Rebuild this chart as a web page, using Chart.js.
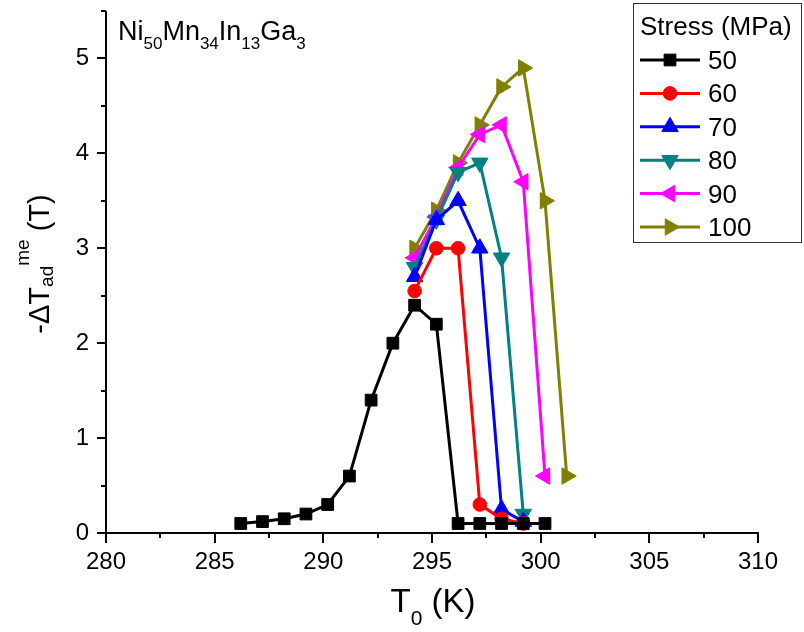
<!DOCTYPE html>
<html><head><meta charset="utf-8">
<script src="https://cdn.jsdelivr.net/npm/chart.js@4/dist/chart.umd.min.js"></script>
<style>html,body{margin:0;padding:0;background:#fff;} #wrap{width:804px;height:632px;}</style>
</head><body><div id="wrap"><canvas id="c" width="804" height="632"></canvas></div>
<script>
// ---- data ----
const stressLabels = ['50', '60', '70', '80', '90', '100'];
const t50  = [286.2, 287.2, 288.2, 289.2, 290.2, 291.2, 292.2, 293.2, 294.2, 295.2, 296.2, 297.2, 298.2, 299.2, 300.2];
const d50  = [0.1, 0.12, 0.15, 0.2, 0.3, 0.6, 1.4, 2.0, 2.4, 2.2, 0.1, 0.1, 0.1, 0.1, 0.1];
const t60  = [294.2, 295.2, 296.2, 297.2, 298.2, 299.2];
const d60  = [2.55, 3.0, 3.0, 0.3, 0.15, 0.1];
const t70  = [294.2, 295.2, 296.2, 297.2, 298.2, 299.2];
const d70  = [2.7, 3.3, 3.5, 3.0, 0.25, 0.12];
const t80  = [294.2, 295.2, 296.2, 297.2, 298.2, 299.2];
const d80  = [2.8, 3.3, 3.8, 3.9, 2.9, 0.2];
const t90  = [294.2, 295.2, 296.2, 297.2, 298.2, 299.2, 300.2];
const d90  = [2.9, 3.33, 3.85, 4.2, 4.3, 3.7, 0.6];
const t100 = [294.2, 295.2, 296.2, 297.2, 298.2, 299.2, 300.2, 301.2];
const d100 = [3.0, 3.4, 3.9, 4.3, 4.7, 4.9, 3.5, 0.6];
const xTicks = [280, 285, 290, 295, 300, 305, 310];
const yTicks = [0, 1, 2, 3, 4, 5];

const FONT = "'Liberation Sans', Arial, Helvetica, sans-serif";
const fnt = s => s + 'px ' + FONT;
Chart.defaults.font.family = FONT;
Chart.defaults.color = '#000';

const styles = [
  {color: '#000000', pointStyle: 'rect', rotation: 0, radius: 8.3},
  {color: '#FF0000', pointStyle: 'circle', rotation: 0, radius: 6.8},
  {color: '#0000FF', pointStyle: 'triangle', rotation: 0, radius: 9.5},
  {color: '#008080', pointStyle: 'triangle', rotation: 180, radius: 9.5},
  {color: '#FF00FF', pointStyle: 'triangle', rotation: -90, radius: 9.5},
  {color: '#808000', pointStyle: 'triangle', rotation: 90, radius: 9.5}
];
const seriesX = [t50, t60, t70, t80, t90, t100];
const seriesY = [d50, d60, d70, d80, d90, d100];

const datasets = stressLabels.map((lab, i) => ({
  label: lab,
  data: seriesX[i].map((x, j) => ({x: x, y: seriesY[i][j]})),
  borderColor: styles[i].color,
  backgroundColor: styles[i].color,
  pointBackgroundColor: styles[i].color,
  pointBorderColor: styles[i].color,
  pointBorderWidth: 1,
  pointStyle: styles[i].pointStyle,
  rotation: styles[i].rotation,
  pointRadius: styles[i].radius,
  pointHoverRadius: styles[i].radius,
  borderWidth: 3,
  showLine: true,
  tension: 0,
  clip: false
}));

function drawRuns(ctx, runs, x, y) {
  let cx = x;
  for (const [t, sz, dy] of runs) {
    ctx.font = fnt(sz);
    ctx.fillText(t, cx, y + dy);
    cx += ctx.measureText(t).width;
  }
  return cx - x;
}
function runsWidth(ctx, runs) {
  let w = 0;
  for (const [t, sz] of runs) { ctx.font = fnt(sz); w += ctx.measureText(t).width; }
  return w;
}
function marker(ctx, st, x, y) {
  ctx.fillStyle = st.color; ctx.strokeStyle = st.color; ctx.lineWidth = 1;
  if (Chart.helpers && Chart.helpers.drawPoint) {
    Chart.helpers.drawPoint(ctx, {pointStyle: st.pointStyle, rotation: st.rotation, radius: st.radius, borderWidth: 1}, x, y);
  }
}

const decor = {
  id: 'decor',
  afterDraw(chart) {
    const ctx = chart.ctx;
    const xs = chart.scales.x, ys = chart.scales.y;
    const ca = chart.chartArea;
    ctx.save();
    ctx.strokeStyle = '#000'; ctx.lineWidth = 2; ctx.lineCap = 'butt';
    // axis lines
    ctx.beginPath();
    ctx.moveTo(ca.left, ca.top); ctx.lineTo(ca.left, ca.bottom);
    ctx.moveTo(ca.left - 1, ca.bottom); ctx.lineTo(ca.right + 1, ca.bottom);
    ctx.stroke();
    // x ticks (major 5, minor 2.5)
    ctx.beginPath();
    for (let v = 280; v <= 310.001; v += 2.5) {
      const px = Math.round(xs.getPixelForValue(v));
      const len = (Math.abs(v % 5) < 1e-6) ? 10 : 5;
      ctx.moveTo(px, ca.bottom); ctx.lineTo(px, ca.bottom + len);
    }
    // y ticks (major 1, minor 0.5)
    for (let v = 0; v <= 5.5001; v += 0.5) {
      const py = Math.round(ys.getPixelForValue(v));
      const len = (Math.abs(v % 1) < 1e-6) ? 9 : 5;
      ctx.moveTo(ca.left, py); ctx.lineTo(ca.left - len, py);
    }
    ctx.stroke();

    ctx.fillStyle = '#000';
    ctx.textBaseline = 'alphabetic';
    ctx.textAlign = 'left';
    // x title
    const xr = [['T', 33, 0], ['0', 21, 13], [' (K)', 33, 0]];
    const xw = runsWidth(ctx, xr);
    drawRuns(ctx, xr, 433 - xw / 2, 612);
    // y title
    const yr = [['-\u0394T', 29, 0], ['ad', 19, 4], ['me', 19, -20], [' (T)', 29, 0]];
    const yw = runsWidth(ctx, yr);
    ctx.save();
    ctx.translate(49, 264 + yw / 2);
    ctx.rotate(-Math.PI / 2);
    drawRuns(ctx, yr, 0, 0);
    ctx.restore();
    // annotation
    const an = [['Ni', 27, 0], ['50', 17, 9], ['Mn', 27, 0], ['34', 17, 9], ['In', 27, 0], ['13', 17, 9], ['Ga', 27, 0], ['3', 17, 9]];
    drawRuns(ctx, an, 118, 40);

    // legend
    ctx.strokeStyle = '#333'; ctx.lineWidth = 1;
    ctx.strokeRect(633.5, 3.5, 168, 239);
    ctx.fillStyle = '#000';
    ctx.font = fnt(26);
    ctx.fillText('Stress (MPa)', 640, 35);
    chart.data.datasets.forEach((ds, i) => {
      const cy = 60 + i * 33.4;
      const st = styles[i];
      ctx.strokeStyle = st.color; ctx.lineWidth = 3;
      ctx.beginPath(); ctx.moveTo(640, cy); ctx.lineTo(700, cy); ctx.stroke();
      marker(ctx, st, 670, cy);
      ctx.fillStyle = '#000';
      ctx.font = fnt(26);
      ctx.fillText(ds.label, 708, cy + 9);
    });
    ctx.restore();
  }
};

new Chart(document.getElementById('c'), {
  type: 'scatter',
  data: {datasets: datasets},
  options: {
    responsive: false,
    animation: false,
    devicePixelRatio: 1,
    layout: {padding: {top: 11, right: 46, left: 0, bottom: 0}},
    plugins: {legend: {display: false}, tooltip: {enabled: false}},
    scales: {
      x: {
        type: 'linear', min: 280, max: 310,
        grid: {display: false, drawTicks: false},
        border: {display: false},
        afterBuildTicks: s => { s.ticks = xTicks.map(v => ({value: v})); },
        afterFit: s => { s.height = 99; s.paddingLeft = 0; s.paddingRight = 0; },
        ticks: {font: {size: 24}, padding: 15, color: '#000', maxRotation: 0}
      },
      y: {
        type: 'linear', min: 0, max: 5.5,
        grid: {display: false, drawTicks: false},
        border: {display: false},
        afterBuildTicks: s => { s.ticks = yTicks.map(v => ({value: v})); },
        afterFit: s => { s.width = 106; s.paddingTop = 0; s.paddingBottom = 0; },
        ticks: {font: {size: 24}, padding: 17, color: '#000'}
      }
    }
  },
  plugins: [decor]
});
</script>
</body></html>
